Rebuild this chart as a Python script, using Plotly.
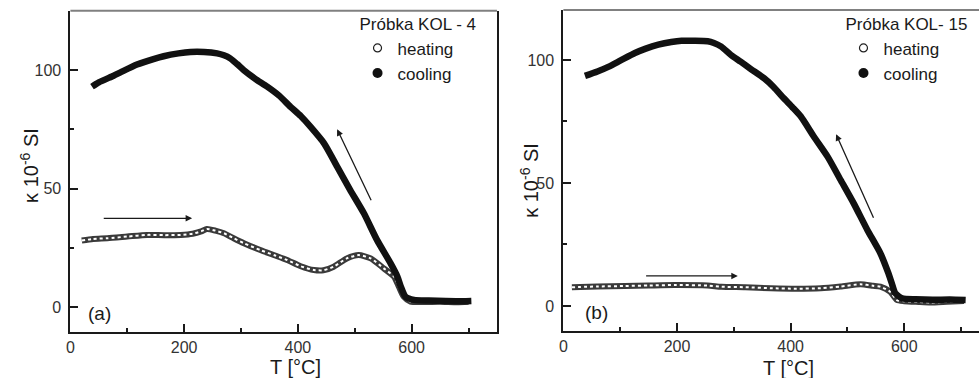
import plotly.graph_objects as go

# ---------------- data ----------------
T_a_cool = [38, 50, 76, 88, 117, 146, 164, 190, 211, 235, 258, 270, 281, 293, 305, 325, 346, 367, 387, 405,
            422, 446, 469, 492, 516, 539, 563, 575, 581, 589, 604, 630, 660, 690, 705]
k_a_cool = [93.0, 94.8, 97.6, 99.0, 102.3, 104.6, 105.8, 107.0, 107.6, 107.6, 107.0, 106.2, 104.9, 102.5, 99.9,
            96.3, 93.0, 89.2, 84.5, 80.6, 76.1, 69.1, 59.3, 49.4, 39.6, 28.4, 18.5, 12.9, 8.7, 4.5, 3.1, 2.8,
            2.6, 2.5, 2.6]
T_a_heat = [20, 40, 65, 100, 135, 165, 194, 215, 230, 240, 255, 270, 287, 305, 334, 360, 381, 405, 428, 445,
            463, 486, 507, 528, 551, 569, 577.5, 586, 598, 620, 650, 680, 700]
k_a_heat = [28.1, 28.8, 29.1, 29.8, 30.5, 30.4, 30.5, 31.0, 32.0, 33.0, 32.3, 31.2, 29.1, 27.0, 24.1, 21.8,
            19.9, 17.3, 15.7, 15.6, 17.1, 20.6, 22.0, 20.6, 16.4, 12.9, 8.7, 4.5, 2.4, 2.2, 2.3, 2.1, 2.3]

T_b_cool = [38, 60, 79, 100, 126, 145, 167, 190, 208, 230, 254, 265, 278, 295, 312, 330, 353, 370, 388, 403,
            418, 441, 465, 488, 511, 535, 558, 572, 578, 584, 596, 620, 650, 680, 708]
k_b_cool = [93.5, 95.3, 97.2, 99.7, 102.8, 104.6, 106.2, 107.3, 107.8, 107.8, 107.6, 106.9, 105.4, 102.0,
            99.3, 96.3, 92.6, 89.0, 84.4, 80.8, 77.0, 68.8, 60.7, 51.2, 41.7, 30.9, 21.4, 13.3, 9.2, 5.2, 3.1,
            2.7, 2.5, 2.6, 2.4]
T_b_heat = [15, 60, 108, 150, 196, 254, 278, 320, 365, 410, 453, 488, 523, 545, 558, 575, 587, 600, 625, 646,
            675, 705]
k_b_heat = [7.6, 7.9, 8.1, 8.3, 8.5, 8.3, 7.8, 7.6, 7.2, 7.0, 7.2, 7.9, 8.8, 8.2, 7.8, 5.8, 2.4, 1.9, 1.6,
            1.4, 1.7, 2.0]

legend_titles = ["Próbka KOL - 4", "Próbka KOL- 15"]
series_names = ["heating", "cooling"]
panel_labels = ["(a)", "(b)"]
x_ticks = [0, 200, 400, 600]
y_ticks = [0, 50, 100]
# arrows: (tail T, tail k, head T, head k)
arrows_a = [(56, 37.5, 214, 37.5), (530, 44.5, 469, 75.0)]
arrows_b = [(143, 12.2, 307, 12.2), (547, 35.2, 480, 69.8)]

FONT = "Liberation Sans, Arial, sans-serif"
INK = "#1a1a1a"

fig = go.Figure()

panels = [
    ("x", "y", "legend", T_a_heat, k_a_heat, T_a_cool, k_a_cool),
    ("x2", "y2", "legend2", T_b_heat, k_b_heat, T_b_cool, k_b_cool),
]
for xa, ya, lg, th, kh, tc, kc in panels:
    # heating: chain of open circles -> dark tube with white core
    fig.add_trace(go.Scatter(x=th, y=kh, xaxis=xa, yaxis=ya, mode="lines", line_shape="spline",
                             line=dict(color="#3a3a3a", width=6, smoothing=0.6), showlegend=False,
                             hoverinfo="skip"))
    fig.add_trace(go.Scatter(x=th, y=kh, xaxis=xa, yaxis=ya, mode="lines", line_shape="spline",
                             line=dict(color="white", width=2, dash="dot", smoothing=0.6), showlegend=False,
                             hoverinfo="skip"))
    # cooling: dense filled circles -> thick black line
    fig.add_trace(go.Scatter(x=tc, y=kc, xaxis=xa, yaxis=ya, mode="lines", line_shape="spline",
                             line=dict(color="#111111", width=6.5, smoothing=0.6), showlegend=False,
                             hoverinfo="skip"))
    # legend entries
    fig.add_trace(go.Scatter(x=[None], y=[None], xaxis=xa, yaxis=ya, mode="markers", name=series_names[0],
                             legend=lg,
                             marker=dict(symbol="circle-open", size=8, color="#222", line=dict(width=1.2))))
    fig.add_trace(go.Scatter(x=[None], y=[None], xaxis=xa, yaxis=ya, mode="markers", name=series_names[1],
                             legend=lg, marker=dict(symbol="circle", size=10, color="#111")))

axis_common = dict(showline=True, linecolor=INK, linewidth=2, ticks="inside", ticklen=8, tickwidth=1.5,
                   tickcolor=INK, showgrid=False, zeroline=False,
                   tickfont=dict(family=FONT, size=16, color="#333"))

fig.update_layout(
    width=979, height=378, margin=dict(l=0, r=0, t=0, b=0),
    paper_bgcolor="white", plot_bgcolor="white",
    font=dict(family=FONT, color=INK),
    xaxis=dict(domain=[0.0681, 0.5056], range=[0, 750], anchor="y", tickvals=x_ticks,
               minor=dict(dtick=100, ticklen=4, tickwidth=1.5, tickcolor=INK, ticks="inside"),
               **axis_common),
    yaxis=dict(domain=[0.1225, 0.9717], range=[-10.3, 125.0], anchor="x", tickvals=y_ticks, mirror=True,
               minor=dict(dtick=25, ticklen=4, tickwidth=1.5, tickcolor=INK, ticks="inside"),
               ticklabelstandoff=4, **axis_common),
    xaxis2=dict(domain=[0.5737, 1.0], range=[0, 731.5], anchor="y2", tickvals=x_ticks,
                minor=dict(dtick=100, ticklen=4, tickwidth=1.5, tickcolor=INK, ticks="inside"),
                **axis_common),
    yaxis2=dict(domain=[0.1243, 0.9735], range=[-10.2, 120.3], anchor="x2", tickvals=y_ticks,
                minor=dict(dtick=25, ticklen=4, tickwidth=1.5, tickcolor=INK, ticks="inside"),
                ticklabelstandoff=4, **axis_common),
    legend=dict(x=0.3626, y=0.978, xanchor="left", yanchor="top", bgcolor="rgba(0,0,0,0)",
                title=dict(text=legend_titles[0], font=dict(family=FONT, size=17, color=INK)),
                font=dict(family=FONT, size=17, color=INK), itemwidth=30, tracegroupgap=0),
    legend2=dict(x=0.861, y=0.978, xanchor="left", yanchor="top", bgcolor="rgba(0,0,0,0)",
                 title=dict(text=legend_titles[1], font=dict(family=FONT, size=17, color=INK)),
                 font=dict(family=FONT, size=17, color=INK), itemwidth=30, tracegroupgap=0),
)

# grey top frame lines
fig.add_shape(type="line", xref="paper", yref="paper", x0=0.0681, x1=0.5056, y0=0.9717, y1=0.9717,
              line=dict(color="#808080", width=2))
fig.add_shape(type="line", xref="paper", yref="paper", x0=0.5737, x1=1.0, y0=0.9735, y1=0.9735,
              line=dict(color="#808080", width=2))

# axis titles
ytitle = "κ 10<sup>-6</sup> SI"
TITLE_FONT = dict(family=FONT, size=20, color=INK)
fig.add_annotation(text=ytitle, xref="paper", yref="paper", x=25 / 979, y=1 - 165 / 378, textangle=-90,
                   xanchor="center", yanchor="middle", showarrow=False, font=TITLE_FONT)
fig.add_annotation(text=ytitle, xref="paper", yref="paper", x=527 / 979, y=1 - 180 / 378, textangle=-90,
                   xanchor="center", yanchor="middle", showarrow=False, font=TITLE_FONT)
fig.add_annotation(text="T [°C]", xref="paper", yref="paper", x=293 / 979, y=1 - 367 / 378,
                   xanchor="center", yanchor="middle", showarrow=False, font=TITLE_FONT)
fig.add_annotation(text="T [°C]", xref="paper", yref="paper", x=788 / 979, y=1 - 368 / 378,
                   xanchor="center", yanchor="middle", showarrow=False, font=TITLE_FONT)

# panel labels
fig.add_annotation(text=panel_labels[0], xref="paper", yref="paper", x=96 / 979, y=1 - 313 / 378,
                   xanchor="center", yanchor="middle", showarrow=False, font=dict(family=FONT, size=19, color=INK))
fig.add_annotation(text=panel_labels[1], xref="paper", yref="paper", x=595 / 979, y=1 - 312 / 378,
                   xanchor="center", yanchor="middle", showarrow=False, font=dict(family=FONT, size=19, color=INK))

# arrows
for (xa, ya), arrs in [(("x", "y"), arrows_a), (("x2", "y2"), arrows_b)]:
    for t0, k0, t1, k1 in arrs:
        fig.add_annotation(x=t1, y=k1, ax=t0, ay=k0, xref=xa, yref=ya, axref=xa, ayref=ya, text="",
                           showarrow=True, arrowhead=2, arrowsize=1, arrowwidth=1.3, arrowcolor=INK)

fig.write_html("out.html")
